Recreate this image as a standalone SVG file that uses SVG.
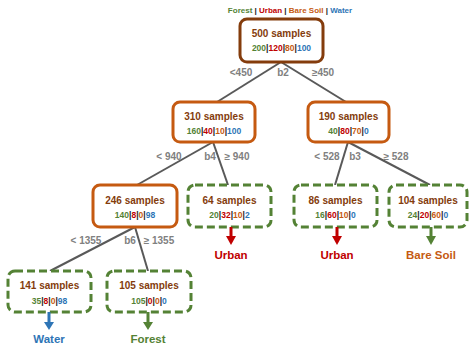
<svg xmlns="http://www.w3.org/2000/svg" width="469" height="345" viewBox="0 0 469 345">
<style>
text{font-family:"Liberation Sans",Arial,sans-serif;font-weight:bold;text-anchor:middle}
.t{font-size:10px;fill:#843C0C}
.n{font-size:8.5px;fill:#222}
.lg{font-size:8px;fill:#222}
.g{fill:#548235}.r{fill:#C00000}.o{fill:#C55A11}.b{fill:#2E75B6}
.root{fill:#fff;stroke:#843C0C;stroke-width:3}
.mid{fill:#fff;stroke:#C55A11;stroke-width:3}
.leaf{fill:#fff;stroke:#548235;stroke-width:3;stroke-dasharray:8 4}
.c line{stroke:#595959;stroke-width:2}
.lbl{font-size:10px;fill:#808080}
.out{font-size:11.5px}
</style>
<text class="lg" x="290" y="13"><tspan class="g">Forest</tspan> | <tspan class="r">Urban</tspan> | <tspan class="o">Bare Soil</tspan> | <tspan class="b">Water</tspan></text>
<g class="c" id="connectors">
<line x1="281" y1="62" x2="217" y2="102"/>
<line x1="281" y1="62" x2="346" y2="102"/>
<line x1="213" y1="142" x2="137" y2="185"/>
<line x1="213" y1="142" x2="228" y2="185"/>
<line x1="348" y1="142" x2="335" y2="185"/>
<line x1="348" y1="142" x2="430" y2="185"/>
<line x1="135" y1="227" x2="50" y2="271"/>
<line x1="135" y1="227" x2="148" y2="271"/>
</g>
<g id="labels">
<text class="lbl" x="241" y="76">&lt;450</text>
<text class="lbl" x="283" y="76">b2</text>
<text class="lbl" x="323" y="76">≥450</text>
<text class="lbl" x="169" y="160">&lt; 940</text>
<text class="lbl" x="210" y="160">b4</text>
<text class="lbl" x="237" y="160">≥ 940</text>
<text class="lbl" x="327" y="160">&lt; 528</text>
<text class="lbl" x="355" y="160">b3</text>
<text class="lbl" x="396" y="160">≥ 528</text>
<text class="lbl" x="86" y="244">&lt; 1355</text>
<text class="lbl" x="130" y="244">b6</text>
<text class="lbl" x="159" y="244">≥ 1355</text>
</g>
<g id="n500">
<rect class="root" x="240" y="19" width="83" height="43" rx="7"/>
<text class="t" x="281.5" y="37">500 samples</text>
<text class="n" x="281.5" y="51"><tspan class="g">200</tspan>|<tspan class="r">120</tspan>|<tspan class="o">80</tspan>|<tspan class="b">100</tspan></text>
</g>
<g id="n310">
<rect class="mid" x="173" y="102" width="82" height="40" rx="7"/>
<text class="t" x="214" y="120">310 samples</text>
<text class="n" x="214" y="134"><tspan class="g">160</tspan>|<tspan class="r">40</tspan>|<tspan class="o">10</tspan>|<tspan class="b">100</tspan></text>
</g>
<g id="n190">
<rect class="mid" x="308" y="102" width="81" height="40" rx="7"/>
<text class="t" x="348.5" y="120">190 samples</text>
<text class="n" x="348.5" y="134"><tspan class="g">40</tspan>|<tspan class="r">80</tspan>|<tspan class="o">70</tspan>|<tspan class="b">0</tspan></text>
</g>
<g id="n246">
<rect class="mid" x="93" y="185" width="84" height="42" rx="7"/>
<text class="t" x="135" y="204">246 samples</text>
<text class="n" x="135" y="218"><tspan class="g">140</tspan>|<tspan class="r">8</tspan>|<tspan class="o">0</tspan>|<tspan class="b">98</tspan></text>
</g>
<g id="n64">
<rect class="leaf" x="188" y="185" width="83" height="42" rx="7"/>
<text class="t" x="229.5" y="204">64 samples</text>
<text class="n" x="229.5" y="218"><tspan class="g">20</tspan>|<tspan class="r">32</tspan>|<tspan class="o">10</tspan>|<tspan class="b">2</tspan></text>
<rect x="229.5" y="227" width="3" height="9" fill="#C00000"/>
<polygon points="226,236 236,236 231,245" fill="#C00000"/>
<text class="out r" x="231" y="259">Urban</text>
</g>
<g id="n86">
<rect class="leaf" x="294" y="185" width="83" height="42" rx="7"/>
<text class="t" x="335.5" y="204">86 samples</text>
<text class="n" x="335.5" y="218"><tspan class="g">16</tspan>|<tspan class="r">60</tspan>|<tspan class="o">10</tspan>|<tspan class="b">0</tspan></text>
<rect x="335.5" y="227" width="3" height="9" fill="#C00000"/>
<polygon points="332,236 342,236 337,245" fill="#C00000"/>
<text class="out r" x="337" y="259">Urban</text>
</g>
<g id="n104">
<rect class="leaf" x="389" y="185" width="78" height="42" rx="7"/>
<text class="t" x="428" y="204">104 samples</text>
<text class="n" x="428" y="218"><tspan class="g">24</tspan>|<tspan class="r">20</tspan>|<tspan class="o">60</tspan>|<tspan class="b">0</tspan></text>
<rect x="429.5" y="227" width="3" height="9" fill="#548235"/>
<polygon points="426,236 436,236 431,245" fill="#548235"/>
<text class="out o" x="431" y="259">Bare Soil</text>
</g>
<g id="n141">
<rect class="leaf" x="8" y="271" width="83" height="41" rx="7"/>
<text class="t" x="49.5" y="289">141 samples</text>
<text class="n" x="49.5" y="304"><tspan class="g">35</tspan>|<tspan class="r">8</tspan>|<tspan class="o">0</tspan>|<tspan class="b">98</tspan></text>
<rect x="47.5" y="312" width="3" height="10" fill="#2E75B6"/>
<polygon points="44,322 54,322 49,330" fill="#2E75B6"/>
<text class="out b" x="49" y="343">Water</text>
</g>
<g id="n105">
<rect class="leaf" x="107" y="271" width="84" height="41" rx="7"/>
<text class="t" x="149" y="289">105 samples</text>
<text class="n" x="149" y="304"><tspan class="g">105</tspan>|<tspan class="r">0</tspan>|<tspan class="o">0</tspan>|<tspan class="b">0</tspan></text>
<rect x="146.5" y="312" width="3" height="10" fill="#548235"/>
<polygon points="143,322 153,322 148,330" fill="#548235"/>
<text class="out g" x="148" y="343">Forest</text>
</g>
</svg>
